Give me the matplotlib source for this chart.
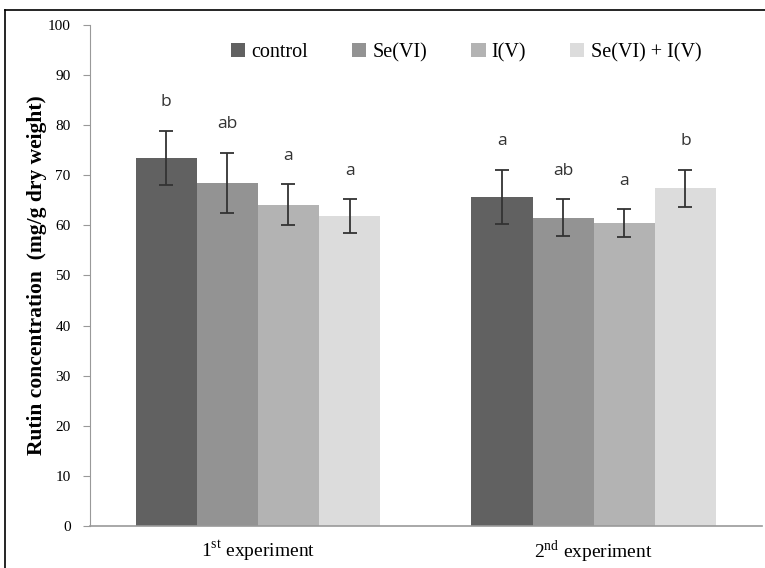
import numpy as np
import matplotlib
matplotlib.use("Agg")
import matplotlib.pyplot as plt
from matplotlib.lines import Line2D

plt.rcParams["font.family"] = ["Liberation Serif", "DejaVu Serif"]
plt.rcParams["mathtext.fontset"] = "custom"
plt.rcParams["mathtext.rm"] = "Liberation Serif"

experiments = ["1$^{\\rm st}$ experiment", "2$^{\\rm nd}$ experiment"]
treatments = ["control", "Se(VI)", "I(V)", "Se(VI) + I(V)"]
colors = ["#616161", "#939393", "#b3b3b3", "#dcdcdc"]

# rutin concentration, rows = treatment, cols = experiment
means = [
    [73.5, 65.7],
    [68.5, 61.5],
    [64.1, 60.4],
    [61.8, 67.4],
]
errors = [
    [5.4, 5.4],
    [6.0, 3.7],
    [4.1, 2.8],
    [3.4, 3.7],
]
letters = [
    ["b", "a"],
    ["ab", "ab"],
    ["a", "a"],
    ["a", "b"],
]

fig = plt.figure(figsize=(7.65, 5.68), dpi=100)
ax = fig.add_axes([0.1176, 0.074, 0.878, 0.882])

x = np.arange(len(experiments))
w = 0.182
for i, t in enumerate(treatments):
    pos = x + (i - 1.5) * w
    ax.bar(pos, means[i], w, color=colors[i], label=t, zorder=2)
    ax.errorbar(pos, means[i], yerr=errors[i], fmt="none", ecolor="#333333",
                elinewidth=1.3, capsize=5, capthick=1.3, zorder=3)
    for j in range(len(experiments)):
        ax.text(pos[j], means[i][j] + errors[i][j] + 5.7, letters[i][j],
                ha="center", va="center", fontsize=12.5, color="#333333",
                family="Open Sans")

ax.set_xlim(-0.5, 1.5)
ax.set_ylim(0, 100)
ax.set_yticks(np.arange(0, 101, 10))
ax.set_xticks(x)
ax.set_xticklabels(experiments, fontsize=14)
ax.tick_params(axis="x", length=0, pad=9)
ax.tick_params(axis="y", direction="out", length=5, color="#999999",
               labelsize=11, pad=9)
for s in ["top", "right"]:
    ax.spines[s].set_visible(False)
ax.spines["left"].set_color("#999999")
ax.spines["bottom"].set_color("#999999")
ax.spines["bottom"].set_linewidth(1.2)

ax.set_ylabel("Rutin concentration  (mg/g dry weight)", fontsize=15.5,
              fontweight="bold")
ax.yaxis.set_label_coords(-0.064, 0.5)

ax.legend(loc="center", bbox_to_anchor=(0.56, 0.945), ncol=4,
          frameon=False, fontsize=14.5, handlelength=0.7, handleheight=0.7,
          handletextpad=0.3, columnspacing=2.2)

# outer frame (left and top edges visible)
fig.add_artist(Line2D([0.0065, 0.0065], [0, 0.982], color="black", lw=1.2))
fig.add_artist(Line2D([0.0065, 1], [0.982, 0.982], color="black", lw=1.2))

fig.savefig("out.png", dpi=100)
